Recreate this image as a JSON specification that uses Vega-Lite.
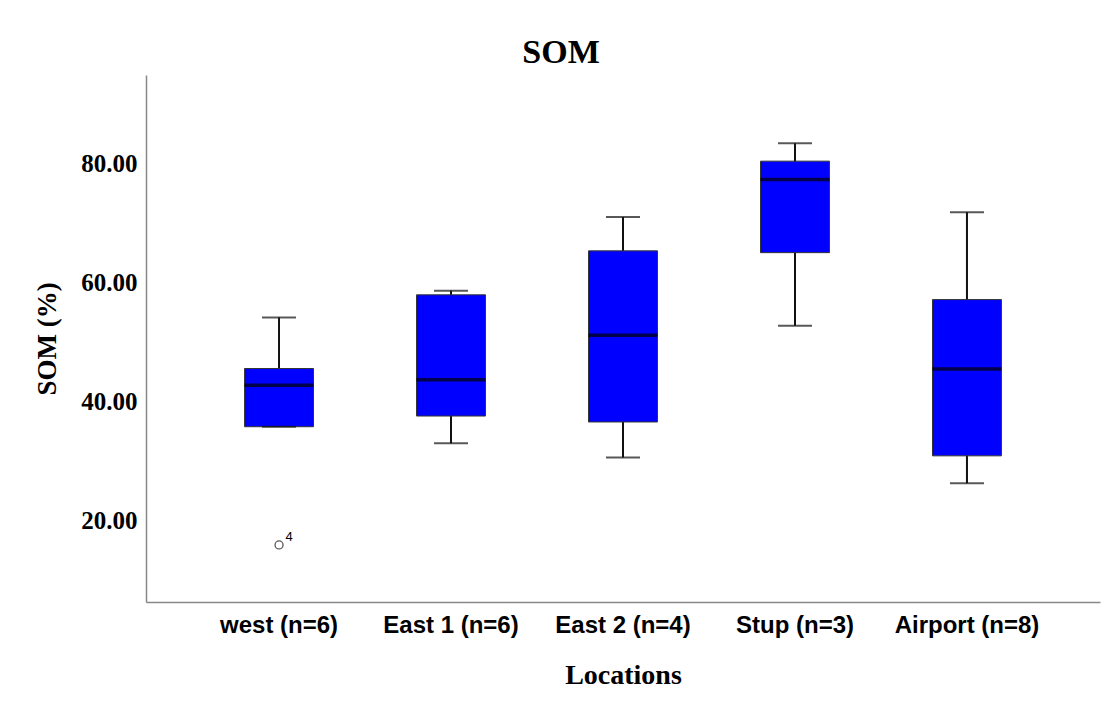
{
  "$schema": "https://vega.github.io/schema/vega-lite/v6.json",
  "autosize": "none",
  "width": 954,
  "height": 527,
  "padding": {"left": 146, "top": 75, "right": 4, "bottom": 102},
  "background": "white",
  "config": {"view": {"stroke": null}},
  "title": {
    "text": "SOM",
    "font": "Liberation Serif",
    "fontSize": 34,
    "fontWeight": "bold",
    "color": "black",
    "anchor": "middle",
    "frame": "group",
    "dx": -62,
    "offset": 5
  },
  "datasets": {
    "boxes": [
      {"loc": "west (n=6)", "lower": 35.7, "q1": 35.7, "median": 42.7, "q3": 45.5, "upper": 54.1},
      {"loc": "East 1 (n=6)", "lower": 32.9, "q1": 37.5, "median": 43.6, "q3": 57.9, "upper": 58.6},
      {"loc": "East 2 (n=4)", "lower": 30.5, "q1": 36.5, "median": 51.1, "q3": 65.3, "upper": 71.0},
      {"loc": "Stup (n=3)", "lower": 52.7, "q1": 65.0, "median": 77.3, "q3": 80.4, "upper": 83.4},
      {"loc": "Airport (n=8)", "lower": 26.2, "q1": 30.8, "median": 45.4, "q3": 57.1, "upper": 71.8}
    ],
    "outliers": [
      {"loc": "west (n=6)", "value": 15.8, "case": "4"}
    ]
  },
  "data": {"name": "boxes"},
  "encoding": {
    "x": {
      "field": "loc",
      "type": "nominal",
      "sort": ["west (n=6)", "East 1 (n=6)", "East 2 (n=4)", "Stup (n=3)", "Airport (n=8)"],
      "scale": {"paddingInner": 0.599, "paddingOuter": 0.573},
      "axis": {
        "title": "Locations",
        "titleFont": "Liberation Serif",
        "titleFontSize": 28,
        "titleFontWeight": "bold",
        "titleColor": "black",
        "titlePadding": 24,
        "labelFont": "Liberation Sans",
        "labelFontSize": 24,
        "labelFontWeight": "bold",
        "labelColor": "black",
        "labelAngle": 0,
        "labelPadding": 11,
        "ticks": false,
        "domainColor": "#888888",
        "domainWidth": 1.5,
        "grid": false
      }
    }
  },
  "layer": [
    {
      "mark": {"type": "rule", "color": "#111111", "strokeWidth": 2},
      "encoding": {
        "y": {
          "field": "lower",
          "type": "quantitative",
          "scale": {"domain": [6.2, 94.9], "nice": false, "zero": false},
          "axis": {
            "title": "SOM (%)",
            "titleFont": "Liberation Serif",
            "titleFontSize": 27,
            "titleFontWeight": "bold",
            "titleColor": "black",
            "titlePadding": 19,
            "labelFont": "Liberation Serif",
            "labelFontSize": 25,
            "labelFontWeight": "bold",
            "labelColor": "black",
            "labelPadding": 9,
            "values": [20, 40, 60, 80],
            "format": ".2f",
            "ticks": false,
            "grid": false,
            "domainColor": "#888888",
            "domainWidth": 1.5
          }
        },
        "y2": {"field": "upper"}
      }
    },
    {
      "mark": {"type": "bar", "fill": "#0000ff", "stroke": "#333333", "strokeWidth": 1},
      "encoding": {
        "y": {"field": "q1", "type": "quantitative"},
        "y2": {"field": "q3"}
      }
    },
    {
      "mark": {"type": "tick", "color": "#000000", "size": 69, "thickness": 3.5},
      "encoding": {"y": {"field": "median", "type": "quantitative"}}
    },
    {
      "mark": {"type": "tick", "color": "#111111", "size": 34, "thickness": 2},
      "encoding": {"y": {"field": "lower", "type": "quantitative"}}
    },
    {
      "mark": {"type": "tick", "color": "#111111", "size": 34, "thickness": 2},
      "encoding": {"y": {"field": "upper", "type": "quantitative"}}
    },
    {
      "data": {"name": "outliers"},
      "mark": {"type": "point", "shape": "circle", "filled": false, "stroke": "#111111", "strokeWidth": 1.3, "size": 64},
      "encoding": {"y": {"field": "value", "type": "quantitative"}}
    },
    {
      "data": {"name": "outliers"},
      "mark": {"type": "text", "font": "Liberation Sans", "fontSize": 13, "color": "black", "dx": 10, "dy": -8},
      "encoding": {
        "y": {"field": "value", "type": "quantitative"},
        "text": {"field": "case"}
      }
    }
  ]
}
